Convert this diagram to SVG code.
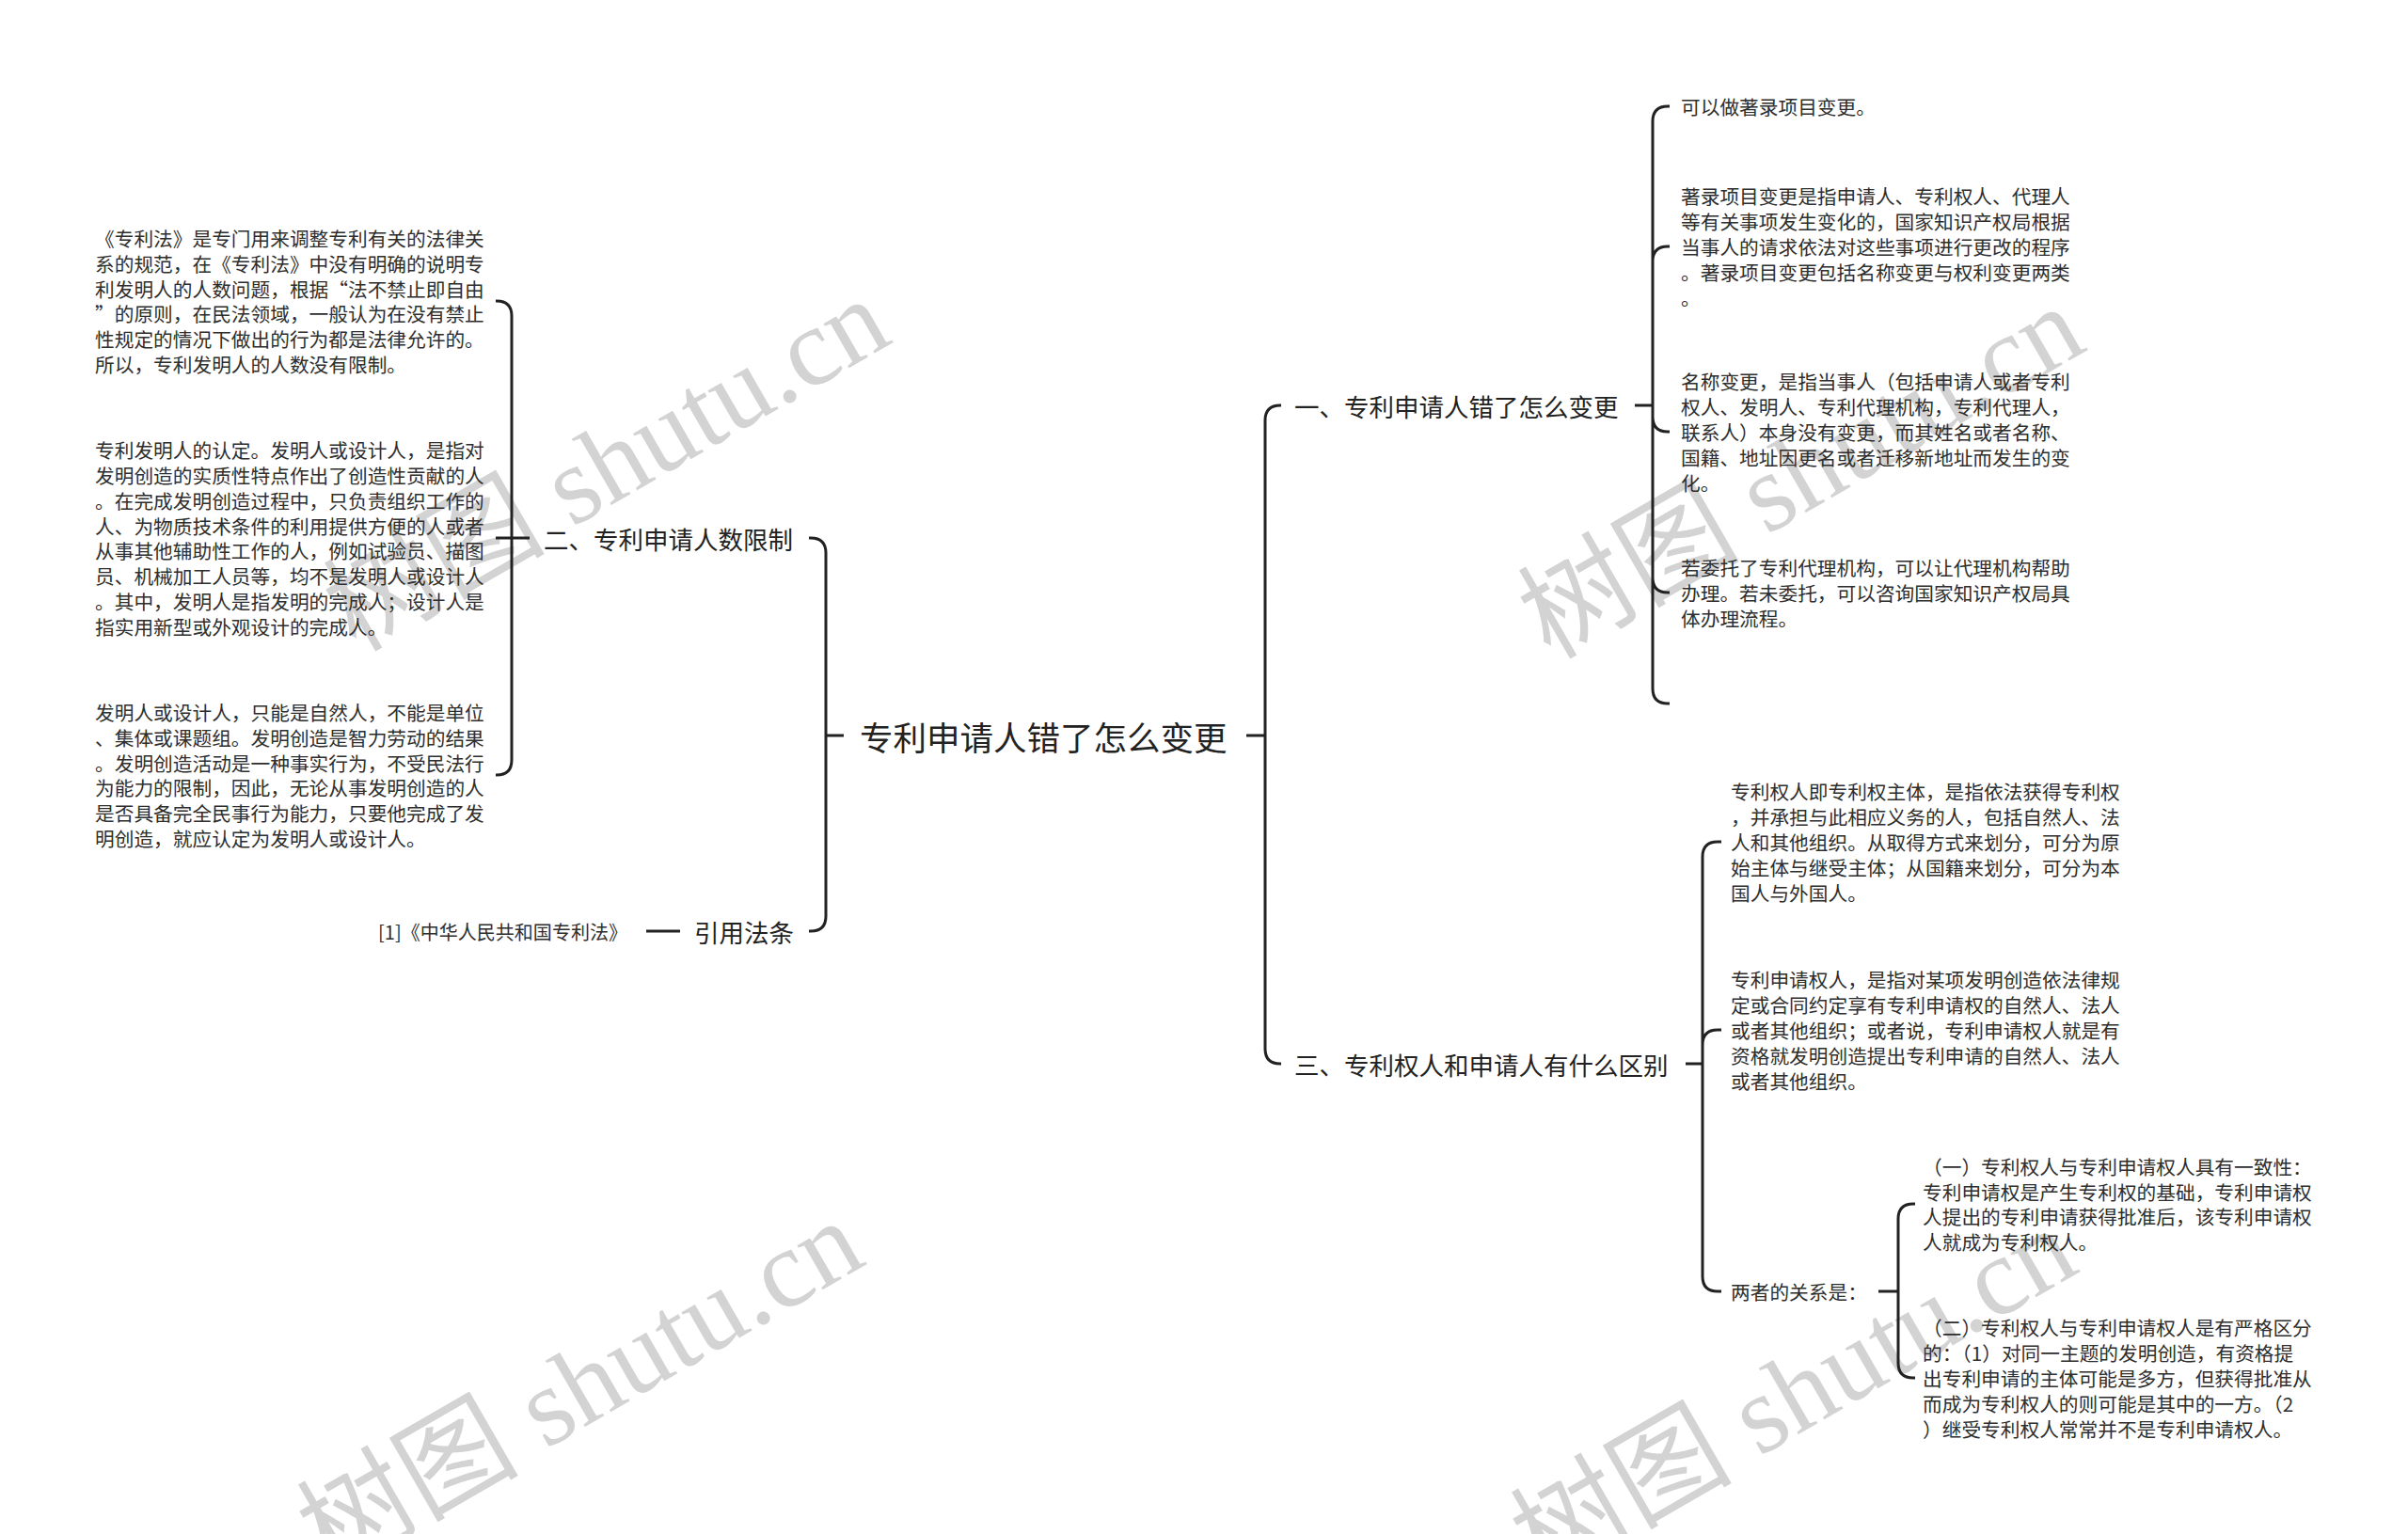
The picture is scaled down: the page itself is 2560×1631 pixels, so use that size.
<svg xmlns="http://www.w3.org/2000/svg" width="2560" height="1631" viewBox="0 0 2560 1631">
<style>
.wm{font-family:"Liberation Serif","Noto Sans CJK SC",serif;font-size:118px;fill:#d3d3d3}
.t{font-family:"Noto Sans CJK SC","Noto Sans",sans-serif;fill:#2e2e2e;dominant-baseline:central}
.root{font-size:35.5px;fill:#222}
.l1{font-size:26.5px;fill:#222}
.b{font-size:20.7px}
.c{fill:none;stroke:#222;stroke-width:3;stroke-linecap:butt;stroke-linejoin:round}
</style>
<rect width="2560" height="1631" fill="#fff"/>
<g id="watermarks">
<text class="wm" transform="translate(378,694) rotate(-30)">树图 shutu.cn</text>
<text class="wm" transform="translate(1648,702) rotate(-30)">树图 shutu.cn</text>
<text class="wm" transform="translate(350,1674) rotate(-30)">树图 shutu.cn</text>
<text class="wm" transform="translate(1640,1682) rotate(-30)">树图 shutu.cn</text>
</g>
<g id="connectors" class="c">
<path d="M878,782 H897 M1325,782 H1345"/>
<path d="M878,782 V588 Q878,572 862,572 H860 M878,782 V974 Q878,990 862,990 H860"/>
<path d="M563,572 H544 M544,572 V336 Q544,320 528,320 H527 M544,572 H527 M544,572 V808 Q544,824 528,824 H527"/>
<path d="M723,990 H687"/>
<path d="M1345,782 V447 Q1345,431 1361,431 H1362 M1345,782 V1115 Q1345,1131 1361,1131 H1362"/>
<path d="M1738,431 H1757 M1757,431 V129 Q1757,113 1773,113 H1775 M1757,431 V278 Q1757,262 1773,262 H1775 M1757,431 V443 Q1757,459 1773,459 H1775 M1757,431 V614 Q1757,630 1773,630 H1775 M1757,431 V732 Q1757,748 1773,748 H1775"/>
<path d="M1792,1131 H1810 M1810,1131 V911 Q1810,895 1826,895 H1830 M1810,1131 V1111 Q1810,1095 1826,1095 H1830 M1810,1131 V1357 Q1810,1373 1826,1373 H1830"/>
<path d="M1997,1373 H2018 M2018,1373 V1296 Q2018,1280 2034,1280 H2036 M2018,1373 V1449 Q2018,1465 2034,1465 H2036"/>
</g>
<g id="root"><text class="t root" x="914" y="782">专利申请人错了怎么变更</text></g>
<g id="n2"><text class="t l1" x="578" y="572">二、专利申请人数限制</text></g>
<g id="n2a"><text class="t b" x="101"><tspan x="101" y="253">《专利法》是专门用来调整专利有关的法律关</tspan><tspan x="101" y="279.8">系的规范，在《专利法》中没有明确的说明专</tspan><tspan x="101" y="306.6">利发明人的人数问题，根据“法不禁止即自由</tspan><tspan x="101" y="333.4">”的原则，在民法领域，一般认为在没有禁止</tspan><tspan x="101" y="360.2">性规定的情况下做出的行为都是法律允许的。</tspan><tspan x="101" y="387">所以，专利发明人的人数没有限制。</tspan></text></g>
<g id="n2b"><text class="t b" x="101"><tspan x="101" y="478">专利发明人的认定。发明人或设计人，是指对</tspan><tspan x="101" y="504.9">发明创造的实质性特点作出了创造性贡献的人</tspan><tspan x="101" y="531.7">。在完成发明创造过程中，只负责组织工作的</tspan><tspan x="101" y="558.6">人、为物质技术条件的利用提供方便的人或者</tspan><tspan x="101" y="585.4">从事其他辅助性工作的人，例如试验员、描图</tspan><tspan x="101" y="612.3">员、机械加工人员等，均不是发明人或设计人</tspan><tspan x="101" y="639.1">。其中，发明人是指发明的完成人；设计人是</tspan><tspan x="101" y="666">指实用新型或外观设计的完成人。</tspan></text></g>
<g id="n2c"><text class="t b" x="101"><tspan x="101" y="757">发明人或设计人，只能是自然人，不能是单位</tspan><tspan x="101" y="783.8">、集体或课题组。发明创造是智力劳动的结果</tspan><tspan x="101" y="810.6">。发明创造活动是一种事实行为，不受民法行</tspan><tspan x="101" y="837.4">为能力的限制，因此，无论从事发明创造的人</tspan><tspan x="101" y="864.2">是否具备完全民事行为能力，只要他完成了发</tspan><tspan x="101" y="891">明创造，就应认定为发明人或设计人。</tspan></text></g>
<g id="n3"><text class="t l1" x="738" y="990">引用法条</text></g>
<g id="n3a"><text class="t b" x="402" y="990" textLength="265" lengthAdjust="spacingAndGlyphs">[1]《中华人民共和国专利法》</text></g>
<g id="n1"><text class="t l1" x="1376" y="431">一、专利申请人错了怎么变更</text></g>
<g id="n1a"><text class="t b" x="1787" y="113">可以做著录项目变更。</text></g>
<g id="n1b"><text class="t b" x="1787"><tspan x="1787" y="208.4">著录项目变更是指申请人、专利权人、代理人</tspan><tspan x="1787" y="235.2">等有关事项发生变化的，国家知识产权局根据</tspan><tspan x="1787" y="262">当事人的请求依法对这些事项进行更改的程序</tspan><tspan x="1787" y="288.8">。著录项目变更包括名称变更与权利变更两类</tspan><tspan x="1787" y="315.6">。</tspan></text></g>
<g id="n1c"><text class="t b" x="1787"><tspan x="1787" y="405.4">名称变更，是指当事人（包括申请人或者专利</tspan><tspan x="1787" y="432.2">权人、发明人、专利代理机构，专利代理人，</tspan><tspan x="1787" y="459">联系人）本身没有变更，而其姓名或者名称、</tspan><tspan x="1787" y="485.8">国籍、地址因更名或者迁移新地址而发生的变</tspan><tspan x="1787" y="512.6">化。</tspan></text></g>
<g id="n1d"><text class="t b" x="1787"><tspan x="1787" y="603.2">若委托了专利代理机构，可以让代理机构帮助</tspan><tspan x="1787" y="630">办理。若未委托，可以咨询国家知识产权局具</tspan><tspan x="1787" y="656.8">体办理流程。</tspan></text></g>
<g id="n4"><text class="t l1" x="1376" y="1131">三、专利权人和申请人有什么区别</text></g>
<g id="n4a"><text class="t b" x="1840"><tspan x="1840" y="841.4">专利权人即专利权主体，是指依法获得专利权</tspan><tspan x="1840" y="868.2">，并承担与此相应义务的人，包括自然人、法</tspan><tspan x="1840" y="895">人和其他组织。从取得方式来划分，可分为原</tspan><tspan x="1840" y="921.8">始主体与继受主体；从国籍来划分，可分为本</tspan><tspan x="1840" y="948.6">国人与外国人。</tspan></text></g>
<g id="n4b"><text class="t b" x="1840"><tspan x="1840" y="1041.4">专利申请权人，是指对某项发明创造依法律规</tspan><tspan x="1840" y="1068.2">定或合同约定享有专利申请权的自然人、法人</tspan><tspan x="1840" y="1095">或者其他组织；或者说，专利申请权人就是有</tspan><tspan x="1840" y="1121.8">资格就发明创造提出专利申请的自然人、法人</tspan><tspan x="1840" y="1148.6">或者其他组织。</tspan></text></g>
<g id="n4c"><text class="t b" x="1840" y="1373">两者的关系是：</text></g>
<g id="n4c1"><text class="t b" x="2044"><tspan x="2044" y="1239.8">（一）专利权人与专利申请权人具有一致性：</tspan><tspan x="2044" y="1266.6">专利申请权是产生专利权的基础，专利申请权</tspan><tspan x="2044" y="1293.4">人提出的专利申请获得批准后，该专利申请权</tspan><tspan x="2044" y="1320.2">人就成为专利权人。</tspan></text></g>
<g id="n4c2"><text class="t b" x="2044"><tspan x="2044" y="1411.4">（二）专利权人与专利申请权人是有严格区分</tspan><tspan x="2044" y="1438.2">的：（1）对同一主题的发明创造，有资格提</tspan><tspan x="2044" y="1465">出专利申请的主体可能是多方，但获得批准从</tspan><tspan x="2044" y="1491.8">而成为专利权人的则可能是其中的一方。（2</tspan><tspan x="2044" y="1518.6">）继受专利权人常常并不是专利申请权人。</tspan></text></g>
</svg>
